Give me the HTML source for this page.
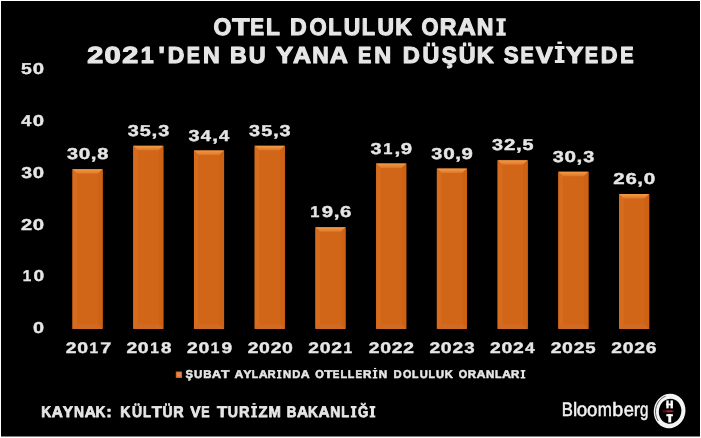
<!DOCTYPE html>
<html><head><meta charset="utf-8"><style>
html,body{margin:0;padding:0;background:#fff;width:701px;height:438px;overflow:hidden}
svg{position:absolute;left:0;top:0;display:block;will-change:transform}
text{font-family:"Liberation Sans",sans-serif;white-space:pre;text-rendering:geometricPrecision}
</style></head><body>
<svg width="701" height="438" viewBox="0 0 701 438">
<defs><linearGradient id="gt" x1="0" y1="0" x2="0" y2="1"><stop offset="0" stop-color="#F59C48"/><stop offset="1" stop-color="#DE7626"/></linearGradient></defs>
<rect x="0" y="0" width="701" height="438" fill="#FFFFFF"/>
<rect x="1" y="1" width="699" height="435.5" fill="#000000"/>
<g><rect x="72.50" y="169.14" width="30.10" height="159.76" fill="#D16619"/><path d="M72.50 169.14H102.60L98.10 173.64H77.00Z" fill="url(#gt)"/><path d="M72.50 169.14L77.00 173.64V324.40L72.50 328.90Z" fill="#D86C1E"/><path d="M102.60 169.14L98.10 173.64V324.40L102.60 328.90Z" fill="#CD6214"/><path d="M72.50 328.90H102.60L98.10 324.40H77.00Z" fill="#D06A24"/></g>
<g><rect x="133.23" y="145.80" width="30.10" height="183.10" fill="#D16619"/><path d="M133.23 145.80H163.33L158.83 150.30H137.73Z" fill="url(#gt)"/><path d="M133.23 145.80L137.73 150.30V324.40L133.23 328.90Z" fill="#D86C1E"/><path d="M163.33 145.80L158.83 150.30V324.40L163.33 328.90Z" fill="#CD6214"/><path d="M133.23 328.90H163.33L158.83 324.40H137.73Z" fill="#D06A24"/></g>
<g><rect x="193.96" y="150.47" width="30.10" height="178.43" fill="#D16619"/><path d="M193.96 150.47H224.06L219.56 154.97H198.46Z" fill="url(#gt)"/><path d="M193.96 150.47L198.46 154.97V324.40L193.96 328.90Z" fill="#D86C1E"/><path d="M224.06 150.47L219.56 154.97V324.40L224.06 328.90Z" fill="#CD6214"/><path d="M193.96 328.90H224.06L219.56 324.40H198.46Z" fill="#D06A24"/></g>
<g><rect x="254.69" y="145.80" width="30.10" height="183.10" fill="#D16619"/><path d="M254.69 145.80H284.79L280.29 150.30H259.19Z" fill="url(#gt)"/><path d="M254.69 145.80L259.19 150.30V324.40L254.69 328.90Z" fill="#D86C1E"/><path d="M284.79 145.80L280.29 150.30V324.40L284.79 328.90Z" fill="#CD6214"/><path d="M254.69 328.90H284.79L280.29 324.40H259.19Z" fill="#D06A24"/></g>
<g><rect x="315.42" y="227.23" width="30.10" height="101.67" fill="#D16619"/><path d="M315.42 227.23H345.52L341.02 231.73H319.92Z" fill="url(#gt)"/><path d="M315.42 227.23L319.92 231.73V324.40L315.42 328.90Z" fill="#D86C1E"/><path d="M345.52 227.23L341.02 231.73V324.40L345.52 328.90Z" fill="#CD6214"/><path d="M315.42 328.90H345.52L341.02 324.40H319.92Z" fill="#D06A24"/></g>
<g><rect x="376.15" y="163.43" width="30.10" height="165.47" fill="#D16619"/><path d="M376.15 163.43H406.25L401.75 167.93H380.65Z" fill="url(#gt)"/><path d="M376.15 163.43L380.65 167.93V324.40L376.15 328.90Z" fill="#D86C1E"/><path d="M406.25 163.43L401.75 167.93V324.40L406.25 328.90Z" fill="#CD6214"/><path d="M376.15 328.90H406.25L401.75 324.40H380.65Z" fill="#D06A24"/></g>
<g><rect x="436.88" y="168.62" width="30.10" height="160.28" fill="#D16619"/><path d="M436.88 168.62H466.98L462.48 173.12H441.38Z" fill="url(#gt)"/><path d="M436.88 168.62L441.38 173.12V324.40L436.88 328.90Z" fill="#D86C1E"/><path d="M466.98 168.62L462.48 173.12V324.40L466.98 328.90Z" fill="#CD6214"/><path d="M436.88 328.90H466.98L462.48 324.40H441.38Z" fill="#D06A24"/></g>
<g><rect x="497.61" y="160.32" width="30.10" height="168.58" fill="#D16619"/><path d="M497.61 160.32H527.71L523.21 164.82H502.11Z" fill="url(#gt)"/><path d="M497.61 160.32L502.11 164.82V324.40L497.61 328.90Z" fill="#D86C1E"/><path d="M527.71 160.32L523.21 164.82V324.40L527.71 328.90Z" fill="#CD6214"/><path d="M497.61 328.90H527.71L523.21 324.40H502.11Z" fill="#D06A24"/></g>
<g><rect x="558.34" y="171.73" width="30.10" height="157.17" fill="#D16619"/><path d="M558.34 171.73H588.44L583.94 176.23H562.84Z" fill="url(#gt)"/><path d="M558.34 171.73L562.84 176.23V324.40L558.34 328.90Z" fill="#D86C1E"/><path d="M588.44 171.73L583.94 176.23V324.40L588.44 328.90Z" fill="#CD6214"/><path d="M558.34 328.90H588.44L583.94 324.40H562.84Z" fill="#D06A24"/></g>
<g><rect x="619.07" y="194.04" width="30.10" height="134.86" fill="#D16619"/><path d="M619.07 194.04H649.17L644.67 198.54H623.57Z" fill="url(#gt)"/><path d="M619.07 194.04L623.57 198.54V324.40L619.07 328.90Z" fill="#D86C1E"/><path d="M649.17 194.04L644.67 198.54V324.40L649.17 328.90Z" fill="#CD6214"/><path d="M619.07 328.90H649.17L644.67 324.40H623.57Z" fill="#D06A24"/></g>
<text transform="translate(213.50 35.13) scale(0.9662 1)" font-size="23.78" font-weight="bold" fill="#E6E6E6" stroke="#E6E6E6" stroke-width="1.14" stroke-linejoin="round">O</text>
<text transform="translate(232.19 35.13) scale(1.1918 1)" font-size="23.78" font-weight="bold" fill="#E6E6E6" stroke="#E6E6E6" stroke-width="1.14" stroke-linejoin="round">T</text>
<text transform="translate(250.17 35.13) scale(0.8711 1)" font-size="23.78" font-weight="bold" fill="#E6E6E6" stroke="#E6E6E6" stroke-width="1.14" stroke-linejoin="round">E</text>
<text transform="translate(266.02 35.13) scale(0.9524 1)" font-size="23.78" font-weight="bold" fill="#E6E6E6" stroke="#E6E6E6" stroke-width="1.14" stroke-linejoin="round">L</text>
<text transform="translate(289.90 35.13) scale(0.9717 1)" font-size="23.78" font-weight="bold" fill="#E6E6E6" stroke="#E6E6E6" stroke-width="1.14" stroke-linejoin="round">D</text>
<text transform="translate(309.43 35.13) scale(0.9279 1)" font-size="23.78" font-weight="bold" fill="#E6E6E6" stroke="#E6E6E6" stroke-width="1.14" stroke-linejoin="round">O</text>
<text transform="translate(328.19 35.13) scale(0.9140 1)" font-size="23.78" font-weight="bold" fill="#E6E6E6" stroke="#E6E6E6" stroke-width="1.14" stroke-linejoin="round">L</text>
<text transform="translate(343.84 35.13) scale(0.9589 1)" font-size="23.78" font-weight="bold" fill="#E6E6E6" stroke="#E6E6E6" stroke-width="1.14" stroke-linejoin="round">U</text>
<text transform="translate(361.87 35.13) scale(0.9140 1)" font-size="23.78" font-weight="bold" fill="#E6E6E6" stroke="#E6E6E6" stroke-width="1.14" stroke-linejoin="round">L</text>
<text transform="translate(377.52 35.13) scale(0.9589 1)" font-size="23.78" font-weight="bold" fill="#E6E6E6" stroke="#E6E6E6" stroke-width="1.14" stroke-linejoin="round">U</text>
<text transform="translate(395.15 35.13) scale(0.9678 1)" font-size="23.78" font-weight="bold" fill="#E6E6E6" stroke="#E6E6E6" stroke-width="1.14" stroke-linejoin="round">K</text>
<text transform="translate(421.44 35.13) scale(0.9188 1)" font-size="23.78" font-weight="bold" fill="#E6E6E6" stroke="#E6E6E6" stroke-width="1.14" stroke-linejoin="round">O</text>
<text transform="translate(439.77 35.13) scale(0.9753 1)" font-size="23.78" font-weight="bold" fill="#E6E6E6" stroke="#E6E6E6" stroke-width="1.14" stroke-linejoin="round">R</text>
<text transform="translate(457.49 35.13) scale(1.0669 1)" font-size="23.78" font-weight="bold" fill="#E6E6E6" stroke="#E6E6E6" stroke-width="1.14" stroke-linejoin="round">A</text>
<text transform="translate(476.85 35.13) scale(0.9708 1)" font-size="23.78" font-weight="bold" fill="#E6E6E6" stroke="#E6E6E6" stroke-width="1.14" stroke-linejoin="round">N</text>
<path d="M496.37 18.20H505.80V21.35H503.36V32.55H505.80V35.70H496.37V32.55H498.81V21.35H496.37Z" fill="#E6E6E6"/>
<text transform="translate(87.14 62.54) scale(1.2378 1)" font-size="23.24" font-weight="bold" fill="#E6E6E6" stroke="#E6E6E6" stroke-width="1.11" stroke-linejoin="round">2</text>
<text transform="translate(104.53 62.54) scale(1.2530 1)" font-size="23.24" font-weight="bold" fill="#E6E6E6" stroke="#E6E6E6" stroke-width="1.11" stroke-linejoin="round">0</text>
<text transform="translate(122.24 62.54) scale(1.2378 1)" font-size="23.24" font-weight="bold" fill="#E6E6E6" stroke="#E6E6E6" stroke-width="1.11" stroke-linejoin="round">2</text>
<text transform="translate(140.85 62.54) scale(0.9989 1)" font-size="23.24" font-weight="bold" fill="#E6E6E6" stroke="#E6E6E6" stroke-width="1.11" stroke-linejoin="round">1</text>
<text transform="translate(158.41 62.54) scale(1.1277 1)" font-size="23.24" font-weight="bold" fill="#E6E6E6" stroke="#E6E6E6" stroke-width="1.11" stroke-linejoin="round">&#39;</text>
<text transform="translate(167.63 62.54) scale(0.9879 1)" font-size="23.24" font-weight="bold" fill="#E6E6E6" stroke="#E6E6E6" stroke-width="1.11" stroke-linejoin="round">D</text>
<text transform="translate(186.84 62.54) scale(0.8501 1)" font-size="23.24" font-weight="bold" fill="#E6E6E6" stroke="#E6E6E6" stroke-width="1.11" stroke-linejoin="round">E</text>
<text transform="translate(202.90 62.54) scale(0.9968 1)" font-size="23.24" font-weight="bold" fill="#E6E6E6" stroke="#E6E6E6" stroke-width="1.11" stroke-linejoin="round">N</text>
<text transform="translate(229.89 62.54) scale(0.9911 1)" font-size="23.24" font-weight="bold" fill="#E6E6E6" stroke="#E6E6E6" stroke-width="1.11" stroke-linejoin="round">B</text>
<text transform="translate(248.72 62.54) scale(1.0056 1)" font-size="23.24" font-weight="bold" fill="#E6E6E6" stroke="#E6E6E6" stroke-width="1.11" stroke-linejoin="round">U</text>
<text transform="translate(276.30 62.54) scale(1.0950 1)" font-size="23.24" font-weight="bold" fill="#E6E6E6" stroke="#E6E6E6" stroke-width="1.11" stroke-linejoin="round">Y</text>
<text transform="translate(293.12 62.54) scale(1.0781 1)" font-size="23.24" font-weight="bold" fill="#E6E6E6" stroke="#E6E6E6" stroke-width="1.11" stroke-linejoin="round">A</text>
<text transform="translate(312.23 62.54) scale(0.9812 1)" font-size="23.24" font-weight="bold" fill="#E6E6E6" stroke="#E6E6E6" stroke-width="1.11" stroke-linejoin="round">N</text>
<text transform="translate(329.73 62.54) scale(1.0781 1)" font-size="23.24" font-weight="bold" fill="#E6E6E6" stroke="#E6E6E6" stroke-width="1.11" stroke-linejoin="round">A</text>
<text transform="translate(358.00 62.54) scale(0.8599 1)" font-size="23.24" font-weight="bold" fill="#E6E6E6" stroke="#E6E6E6" stroke-width="1.11" stroke-linejoin="round">E</text>
<text transform="translate(374.23 62.54) scale(1.0081 1)" font-size="23.24" font-weight="bold" fill="#E6E6E6" stroke="#E6E6E6" stroke-width="1.11" stroke-linejoin="round">N</text>
<text transform="translate(402.65 62.54) scale(1.0171 1)" font-size="23.24" font-weight="bold" fill="#E6E6E6" stroke="#E6E6E6" stroke-width="1.11" stroke-linejoin="round">D</text>
<text transform="translate(422.57 62.54) scale(1.0038 1)" font-size="23.24" font-weight="bold" fill="#E6E6E6" stroke="#E6E6E6" stroke-width="1.11" stroke-linejoin="round">Ü</text>
<text transform="translate(441.66 62.54) scale(0.9731 1)" font-size="23.24" font-weight="bold" fill="#E6E6E6" stroke="#E6E6E6" stroke-width="1.11" stroke-linejoin="round">Ş</text>
<text transform="translate(458.79 62.54) scale(1.0038 1)" font-size="23.24" font-weight="bold" fill="#E6E6E6" stroke="#E6E6E6" stroke-width="1.11" stroke-linejoin="round">Ü</text>
<text transform="translate(476.79 62.54) scale(1.0129 1)" font-size="23.24" font-weight="bold" fill="#E6E6E6" stroke="#E6E6E6" stroke-width="1.11" stroke-linejoin="round">K</text>
<text transform="translate(503.79 62.54) scale(0.9589 1)" font-size="23.24" font-weight="bold" fill="#E6E6E6" stroke="#E6E6E6" stroke-width="1.11" stroke-linejoin="round">S</text>
<text transform="translate(520.52 62.54) scale(0.8627 1)" font-size="23.24" font-weight="bold" fill="#E6E6E6" stroke="#E6E6E6" stroke-width="1.11" stroke-linejoin="round">E</text>
<text transform="translate(535.79 62.54) scale(1.1102 1)" font-size="23.24" font-weight="bold" fill="#E6E6E6" stroke="#E6E6E6" stroke-width="1.11" stroke-linejoin="round">V</text>
<path d="M554.88 46.00H564.46V49.08H561.89V60.02H564.46V63.10H554.88V60.02H557.45V49.08H554.88Z" fill="#E6E6E6"/>
<rect x="557.45" y="41.55" width="4.45" height="2.39" fill="#E6E6E6"/>
<text transform="translate(566.08 62.54) scale(1.1285 1)" font-size="23.24" font-weight="bold" fill="#E6E6E6" stroke="#E6E6E6" stroke-width="1.11" stroke-linejoin="round">Y</text>
<text transform="translate(584.69 62.54) scale(0.8627 1)" font-size="23.24" font-weight="bold" fill="#E6E6E6" stroke="#E6E6E6" stroke-width="1.11" stroke-linejoin="round">E</text>
<text transform="translate(600.70 62.54) scale(1.0023 1)" font-size="23.24" font-weight="bold" fill="#E6E6E6" stroke="#E6E6E6" stroke-width="1.11" stroke-linejoin="round">D</text>
<text transform="translate(620.18 62.54) scale(0.8627 1)" font-size="23.24" font-weight="bold" fill="#E6E6E6" stroke="#E6E6E6" stroke-width="1.11" stroke-linejoin="round">E</text>
<text transform="translate(21.02 74.05) scale(1.2402 1)" font-size="15.67" font-weight="bold" fill="#E6E6E6" stroke="#E6E6E6" stroke-width="0.40" stroke-linejoin="round">5</text>
<text transform="translate(32.80 74.05) scale(1.2975 1)" font-size="15.67" font-weight="bold" fill="#E6E6E6" stroke="#E6E6E6" stroke-width="0.40" stroke-linejoin="round">0</text>
<text transform="translate(21.35 125.89) scale(1.1520 1)" font-size="15.67" font-weight="bold" fill="#E6E6E6" stroke="#E6E6E6" stroke-width="0.40" stroke-linejoin="round">4</text>
<text transform="translate(32.80 125.89) scale(1.2975 1)" font-size="15.67" font-weight="bold" fill="#E6E6E6" stroke="#E6E6E6" stroke-width="0.40" stroke-linejoin="round">0</text>
<text transform="translate(21.17 177.73) scale(1.2414 1)" font-size="15.67" font-weight="bold" fill="#E6E6E6" stroke="#E6E6E6" stroke-width="0.40" stroke-linejoin="round">3</text>
<text transform="translate(32.80 177.73) scale(1.2975 1)" font-size="15.67" font-weight="bold" fill="#E6E6E6" stroke="#E6E6E6" stroke-width="0.40" stroke-linejoin="round">0</text>
<text transform="translate(20.92 229.57) scale(1.2817 1)" font-size="15.67" font-weight="bold" fill="#E6E6E6" stroke="#E6E6E6" stroke-width="0.40" stroke-linejoin="round">2</text>
<text transform="translate(32.80 229.57) scale(1.2975 1)" font-size="15.67" font-weight="bold" fill="#E6E6E6" stroke="#E6E6E6" stroke-width="0.40" stroke-linejoin="round">0</text>
<text transform="translate(22.86 281.41) scale(0.9763 1)" font-size="15.67" font-weight="bold" fill="#E6E6E6" stroke="#E6E6E6" stroke-width="0.40" stroke-linejoin="round">1</text>
<text transform="translate(33.39 281.41) scale(1.2246 1)" font-size="15.67" font-weight="bold" fill="#E6E6E6" stroke="#E6E6E6" stroke-width="0.40" stroke-linejoin="round">0</text>
<text transform="translate(33.03 333.25) scale(1.2688 1)" font-size="15.67" font-weight="bold" fill="#E6E6E6" stroke="#E6E6E6" stroke-width="0.40" stroke-linejoin="round">0</text>
<text transform="translate(66.92 159.24) scale(1.2532 1)" font-size="15.81" font-weight="bold" fill="#E6E6E6" stroke="#E6E6E6" stroke-width="0.41" stroke-linejoin="round">3</text>
<text transform="translate(78.76 159.24) scale(1.3099 1)" font-size="15.81" font-weight="bold" fill="#E6E6E6" stroke="#E6E6E6" stroke-width="0.41" stroke-linejoin="round">0</text>
<text transform="translate(90.77 159.24) scale(1.3088 1)" font-size="15.81" font-weight="bold" fill="#E6E6E6" stroke="#E6E6E6" stroke-width="0.41" stroke-linejoin="round">,</text>
<text transform="translate(97.25 159.24) scale(1.2619 1)" font-size="15.81" font-weight="bold" fill="#E6E6E6" stroke="#E6E6E6" stroke-width="0.41" stroke-linejoin="round">8</text>
<text transform="translate(65.85 353.40) scale(1.2504 1)" font-size="15.40" font-weight="bold" fill="#E6E6E6" stroke="#E6E6E6" stroke-width="0.40" stroke-linejoin="round">2</text>
<text transform="translate(77.24 353.40) scale(1.2658 1)" font-size="15.40" font-weight="bold" fill="#E6E6E6" stroke="#E6E6E6" stroke-width="0.40" stroke-linejoin="round">0</text>
<text transform="translate(89.55 353.40) scale(1.0091 1)" font-size="15.40" font-weight="bold" fill="#E6E6E6" stroke="#E6E6E6" stroke-width="0.40" stroke-linejoin="round">1</text>
<text transform="translate(100.16 353.40) scale(1.2829 1)" font-size="15.40" font-weight="bold" fill="#E6E6E6" stroke="#E6E6E6" stroke-width="0.40" stroke-linejoin="round">7</text>
<text transform="translate(127.65 135.90) scale(1.2532 1)" font-size="15.81" font-weight="bold" fill="#E6E6E6" stroke="#E6E6E6" stroke-width="0.41" stroke-linejoin="round">3</text>
<text transform="translate(139.70 135.90) scale(1.2520 1)" font-size="15.81" font-weight="bold" fill="#E6E6E6" stroke="#E6E6E6" stroke-width="0.41" stroke-linejoin="round">5</text>
<text transform="translate(151.50 135.90) scale(1.3088 1)" font-size="15.81" font-weight="bold" fill="#E6E6E6" stroke="#E6E6E6" stroke-width="0.41" stroke-linejoin="round">,</text>
<text transform="translate(158.15 135.90) scale(1.2532 1)" font-size="15.81" font-weight="bold" fill="#E6E6E6" stroke="#E6E6E6" stroke-width="0.41" stroke-linejoin="round">3</text>
<text transform="translate(126.45 353.40) scale(1.2504 1)" font-size="15.40" font-weight="bold" fill="#E6E6E6" stroke="#E6E6E6" stroke-width="0.40" stroke-linejoin="round">2</text>
<text transform="translate(137.84 353.40) scale(1.2658 1)" font-size="15.40" font-weight="bold" fill="#E6E6E6" stroke="#E6E6E6" stroke-width="0.40" stroke-linejoin="round">0</text>
<text transform="translate(150.15 353.40) scale(1.0091 1)" font-size="15.40" font-weight="bold" fill="#E6E6E6" stroke="#E6E6E6" stroke-width="0.40" stroke-linejoin="round">1</text>
<text transform="translate(161.01 353.40) scale(1.2195 1)" font-size="15.40" font-weight="bold" fill="#E6E6E6" stroke="#E6E6E6" stroke-width="0.40" stroke-linejoin="round">8</text>
<text transform="translate(188.38 140.56) scale(1.2532 1)" font-size="15.81" font-weight="bold" fill="#E6E6E6" stroke="#E6E6E6" stroke-width="0.41" stroke-linejoin="round">3</text>
<text transform="translate(200.76 140.56) scale(1.1630 1)" font-size="15.81" font-weight="bold" fill="#E6E6E6" stroke="#E6E6E6" stroke-width="0.41" stroke-linejoin="round">4</text>
<text transform="translate(212.23 140.56) scale(1.3088 1)" font-size="15.81" font-weight="bold" fill="#E6E6E6" stroke="#E6E6E6" stroke-width="0.41" stroke-linejoin="round">,</text>
<text transform="translate(219.06 140.56) scale(1.1630 1)" font-size="15.81" font-weight="bold" fill="#E6E6E6" stroke="#E6E6E6" stroke-width="0.41" stroke-linejoin="round">4</text>
<text transform="translate(187.05 353.40) scale(1.2504 1)" font-size="15.40" font-weight="bold" fill="#E6E6E6" stroke="#E6E6E6" stroke-width="0.40" stroke-linejoin="round">2</text>
<text transform="translate(198.44 353.40) scale(1.2658 1)" font-size="15.40" font-weight="bold" fill="#E6E6E6" stroke="#E6E6E6" stroke-width="0.40" stroke-linejoin="round">0</text>
<text transform="translate(210.75 353.40) scale(1.0091 1)" font-size="15.40" font-weight="bold" fill="#E6E6E6" stroke="#E6E6E6" stroke-width="0.40" stroke-linejoin="round">1</text>
<text transform="translate(221.55 353.40) scale(1.2428 1)" font-size="15.40" font-weight="bold" fill="#E6E6E6" stroke="#E6E6E6" stroke-width="0.40" stroke-linejoin="round">9</text>
<text transform="translate(249.11 135.90) scale(1.2532 1)" font-size="15.81" font-weight="bold" fill="#E6E6E6" stroke="#E6E6E6" stroke-width="0.41" stroke-linejoin="round">3</text>
<text transform="translate(261.16 135.90) scale(1.2520 1)" font-size="15.81" font-weight="bold" fill="#E6E6E6" stroke="#E6E6E6" stroke-width="0.41" stroke-linejoin="round">5</text>
<text transform="translate(272.96 135.90) scale(1.3088 1)" font-size="15.81" font-weight="bold" fill="#E6E6E6" stroke="#E6E6E6" stroke-width="0.41" stroke-linejoin="round">,</text>
<text transform="translate(279.61 135.90) scale(1.2532 1)" font-size="15.81" font-weight="bold" fill="#E6E6E6" stroke="#E6E6E6" stroke-width="0.41" stroke-linejoin="round">3</text>
<text transform="translate(247.65 353.40) scale(1.2504 1)" font-size="15.40" font-weight="bold" fill="#E6E6E6" stroke="#E6E6E6" stroke-width="0.40" stroke-linejoin="round">2</text>
<text transform="translate(259.04 353.40) scale(1.2658 1)" font-size="15.40" font-weight="bold" fill="#E6E6E6" stroke="#E6E6E6" stroke-width="0.40" stroke-linejoin="round">0</text>
<text transform="translate(270.65 353.40) scale(1.2504 1)" font-size="15.40" font-weight="bold" fill="#E6E6E6" stroke="#E6E6E6" stroke-width="0.40" stroke-linejoin="round">2</text>
<text transform="translate(282.04 353.40) scale(1.2658 1)" font-size="15.40" font-weight="bold" fill="#E6E6E6" stroke="#E6E6E6" stroke-width="0.40" stroke-linejoin="round">0</text>
<text transform="translate(310.34 217.33) scale(1.0442 1)" font-size="15.81" font-weight="bold" fill="#E6E6E6" stroke="#E6E6E6" stroke-width="0.41" stroke-linejoin="round">1</text>
<text transform="translate(321.79 217.33) scale(1.2861 1)" font-size="15.81" font-weight="bold" fill="#E6E6E6" stroke="#E6E6E6" stroke-width="0.41" stroke-linejoin="round">9</text>
<text transform="translate(333.69 217.33) scale(1.3088 1)" font-size="15.81" font-weight="bold" fill="#E6E6E6" stroke="#E6E6E6" stroke-width="0.41" stroke-linejoin="round">,</text>
<text transform="translate(340.05 217.33) scale(1.2887 1)" font-size="15.81" font-weight="bold" fill="#E6E6E6" stroke="#E6E6E6" stroke-width="0.41" stroke-linejoin="round">6</text>
<text transform="translate(308.25 353.40) scale(1.2504 1)" font-size="15.40" font-weight="bold" fill="#E6E6E6" stroke="#E6E6E6" stroke-width="0.40" stroke-linejoin="round">2</text>
<text transform="translate(319.64 353.40) scale(1.2658 1)" font-size="15.40" font-weight="bold" fill="#E6E6E6" stroke="#E6E6E6" stroke-width="0.40" stroke-linejoin="round">0</text>
<text transform="translate(331.25 353.40) scale(1.2504 1)" font-size="15.40" font-weight="bold" fill="#E6E6E6" stroke="#E6E6E6" stroke-width="0.40" stroke-linejoin="round">2</text>
<text transform="translate(343.45 353.40) scale(1.0091 1)" font-size="15.40" font-weight="bold" fill="#E6E6E6" stroke="#E6E6E6" stroke-width="0.40" stroke-linejoin="round">1</text>
<text transform="translate(370.57 153.53) scale(1.2532 1)" font-size="15.81" font-weight="bold" fill="#E6E6E6" stroke="#E6E6E6" stroke-width="0.41" stroke-linejoin="round">3</text>
<text transform="translate(383.27 153.53) scale(1.0442 1)" font-size="15.81" font-weight="bold" fill="#E6E6E6" stroke="#E6E6E6" stroke-width="0.41" stroke-linejoin="round">1</text>
<text transform="translate(394.42 153.53) scale(1.3088 1)" font-size="15.81" font-weight="bold" fill="#E6E6E6" stroke="#E6E6E6" stroke-width="0.41" stroke-linejoin="round">,</text>
<text transform="translate(400.82 153.53) scale(1.2861 1)" font-size="15.81" font-weight="bold" fill="#E6E6E6" stroke="#E6E6E6" stroke-width="0.41" stroke-linejoin="round">9</text>
<text transform="translate(368.85 353.40) scale(1.2504 1)" font-size="15.40" font-weight="bold" fill="#E6E6E6" stroke="#E6E6E6" stroke-width="0.40" stroke-linejoin="round">2</text>
<text transform="translate(380.24 353.40) scale(1.2658 1)" font-size="15.40" font-weight="bold" fill="#E6E6E6" stroke="#E6E6E6" stroke-width="0.40" stroke-linejoin="round">0</text>
<text transform="translate(391.85 353.40) scale(1.2504 1)" font-size="15.40" font-weight="bold" fill="#E6E6E6" stroke="#E6E6E6" stroke-width="0.40" stroke-linejoin="round">2</text>
<text transform="translate(403.34 353.40) scale(1.2504 1)" font-size="15.40" font-weight="bold" fill="#E6E6E6" stroke="#E6E6E6" stroke-width="0.40" stroke-linejoin="round">2</text>
<text transform="translate(431.30 158.72) scale(1.2532 1)" font-size="15.81" font-weight="bold" fill="#E6E6E6" stroke="#E6E6E6" stroke-width="0.41" stroke-linejoin="round">3</text>
<text transform="translate(443.14 158.72) scale(1.3099 1)" font-size="15.81" font-weight="bold" fill="#E6E6E6" stroke="#E6E6E6" stroke-width="0.41" stroke-linejoin="round">0</text>
<text transform="translate(455.15 158.72) scale(1.3088 1)" font-size="15.81" font-weight="bold" fill="#E6E6E6" stroke="#E6E6E6" stroke-width="0.41" stroke-linejoin="round">,</text>
<text transform="translate(461.55 158.72) scale(1.2861 1)" font-size="15.81" font-weight="bold" fill="#E6E6E6" stroke="#E6E6E6" stroke-width="0.41" stroke-linejoin="round">9</text>
<text transform="translate(429.45 353.40) scale(1.2504 1)" font-size="15.40" font-weight="bold" fill="#E6E6E6" stroke="#E6E6E6" stroke-width="0.40" stroke-linejoin="round">2</text>
<text transform="translate(440.84 353.40) scale(1.2658 1)" font-size="15.40" font-weight="bold" fill="#E6E6E6" stroke="#E6E6E6" stroke-width="0.40" stroke-linejoin="round">0</text>
<text transform="translate(452.45 353.40) scale(1.2504 1)" font-size="15.40" font-weight="bold" fill="#E6E6E6" stroke="#E6E6E6" stroke-width="0.40" stroke-linejoin="round">2</text>
<text transform="translate(464.18 353.40) scale(1.2111 1)" font-size="15.40" font-weight="bold" fill="#E6E6E6" stroke="#E6E6E6" stroke-width="0.40" stroke-linejoin="round">3</text>
<text transform="translate(492.03 150.42) scale(1.2532 1)" font-size="15.81" font-weight="bold" fill="#E6E6E6" stroke="#E6E6E6" stroke-width="0.41" stroke-linejoin="round">3</text>
<text transform="translate(503.98 150.42) scale(1.2939 1)" font-size="15.81" font-weight="bold" fill="#E6E6E6" stroke="#E6E6E6" stroke-width="0.41" stroke-linejoin="round">2</text>
<text transform="translate(515.88 150.42) scale(1.3088 1)" font-size="15.81" font-weight="bold" fill="#E6E6E6" stroke="#E6E6E6" stroke-width="0.41" stroke-linejoin="round">,</text>
<text transform="translate(522.38 150.42) scale(1.2520 1)" font-size="15.81" font-weight="bold" fill="#E6E6E6" stroke="#E6E6E6" stroke-width="0.41" stroke-linejoin="round">5</text>
<text transform="translate(490.05 353.40) scale(1.2504 1)" font-size="15.40" font-weight="bold" fill="#E6E6E6" stroke="#E6E6E6" stroke-width="0.40" stroke-linejoin="round">2</text>
<text transform="translate(501.44 353.40) scale(1.2658 1)" font-size="15.40" font-weight="bold" fill="#E6E6E6" stroke="#E6E6E6" stroke-width="0.40" stroke-linejoin="round">0</text>
<text transform="translate(513.05 353.40) scale(1.2504 1)" font-size="15.40" font-weight="bold" fill="#E6E6E6" stroke="#E6E6E6" stroke-width="0.40" stroke-linejoin="round">2</text>
<text transform="translate(524.95 353.40) scale(1.1239 1)" font-size="15.40" font-weight="bold" fill="#E6E6E6" stroke="#E6E6E6" stroke-width="0.40" stroke-linejoin="round">4</text>
<text transform="translate(552.76 161.83) scale(1.2532 1)" font-size="15.81" font-weight="bold" fill="#E6E6E6" stroke="#E6E6E6" stroke-width="0.41" stroke-linejoin="round">3</text>
<text transform="translate(564.60 161.83) scale(1.3099 1)" font-size="15.81" font-weight="bold" fill="#E6E6E6" stroke="#E6E6E6" stroke-width="0.41" stroke-linejoin="round">0</text>
<text transform="translate(576.61 161.83) scale(1.3088 1)" font-size="15.81" font-weight="bold" fill="#E6E6E6" stroke="#E6E6E6" stroke-width="0.41" stroke-linejoin="round">,</text>
<text transform="translate(583.26 161.83) scale(1.2532 1)" font-size="15.81" font-weight="bold" fill="#E6E6E6" stroke="#E6E6E6" stroke-width="0.41" stroke-linejoin="round">3</text>
<text transform="translate(550.65 353.40) scale(1.2504 1)" font-size="15.40" font-weight="bold" fill="#E6E6E6" stroke="#E6E6E6" stroke-width="0.40" stroke-linejoin="round">2</text>
<text transform="translate(562.04 353.40) scale(1.2658 1)" font-size="15.40" font-weight="bold" fill="#E6E6E6" stroke="#E6E6E6" stroke-width="0.40" stroke-linejoin="round">0</text>
<text transform="translate(573.65 353.40) scale(1.2504 1)" font-size="15.40" font-weight="bold" fill="#E6E6E6" stroke="#E6E6E6" stroke-width="0.40" stroke-linejoin="round">2</text>
<text transform="translate(585.24 353.40) scale(1.2099 1)" font-size="15.40" font-weight="bold" fill="#E6E6E6" stroke="#E6E6E6" stroke-width="0.40" stroke-linejoin="round">5</text>
<text transform="translate(613.23 184.13) scale(1.2939 1)" font-size="15.81" font-weight="bold" fill="#E6E6E6" stroke="#E6E6E6" stroke-width="0.41" stroke-linejoin="round">2</text>
<text transform="translate(625.40 184.13) scale(1.2887 1)" font-size="15.81" font-weight="bold" fill="#E6E6E6" stroke="#E6E6E6" stroke-width="0.41" stroke-linejoin="round">6</text>
<text transform="translate(637.34 184.13) scale(1.3088 1)" font-size="15.81" font-weight="bold" fill="#E6E6E6" stroke="#E6E6E6" stroke-width="0.41" stroke-linejoin="round">,</text>
<text transform="translate(643.63 184.13) scale(1.3099 1)" font-size="15.81" font-weight="bold" fill="#E6E6E6" stroke="#E6E6E6" stroke-width="0.41" stroke-linejoin="round">0</text>
<text transform="translate(611.25 353.40) scale(1.2504 1)" font-size="15.40" font-weight="bold" fill="#E6E6E6" stroke="#E6E6E6" stroke-width="0.40" stroke-linejoin="round">2</text>
<text transform="translate(622.64 353.40) scale(1.2658 1)" font-size="15.40" font-weight="bold" fill="#E6E6E6" stroke="#E6E6E6" stroke-width="0.40" stroke-linejoin="round">0</text>
<text transform="translate(634.25 353.40) scale(1.2504 1)" font-size="15.40" font-weight="bold" fill="#E6E6E6" stroke="#E6E6E6" stroke-width="0.40" stroke-linejoin="round">2</text>
<text transform="translate(645.71 353.40) scale(1.2453 1)" font-size="15.40" font-weight="bold" fill="#E6E6E6" stroke="#E6E6E6" stroke-width="0.40" stroke-linejoin="round">6</text>
<text transform="translate(185.54 378.23) scale(0.9855 1)" font-size="11.42" font-weight="bold" fill="#E6E6E6" stroke="#E6E6E6" stroke-width="0.55" stroke-linejoin="round">Ş</text>
<text transform="translate(194.05 378.23) scale(1.0166 1)" font-size="11.42" font-weight="bold" fill="#E6E6E6" stroke="#E6E6E6" stroke-width="0.55" stroke-linejoin="round">U</text>
<text transform="translate(203.26 378.23) scale(1.0020 1)" font-size="11.42" font-weight="bold" fill="#E6E6E6" stroke="#E6E6E6" stroke-width="0.55" stroke-linejoin="round">B</text>
<text transform="translate(211.87 378.23) scale(1.1415 1)" font-size="11.42" font-weight="bold" fill="#E6E6E6" stroke="#E6E6E6" stroke-width="0.55" stroke-linejoin="round">A</text>
<text transform="translate(220.93 378.23) scale(1.2129 1)" font-size="11.42" font-weight="bold" fill="#E6E6E6" stroke="#E6E6E6" stroke-width="0.55" stroke-linejoin="round">T</text>
<text transform="translate(234.46 378.23) scale(1.0802 1)" font-size="11.42" font-weight="bold" fill="#E6E6E6" stroke="#E6E6E6" stroke-width="0.55" stroke-linejoin="round">A</text>
<text transform="translate(243.26 378.23) scale(1.0971 1)" font-size="11.42" font-weight="bold" fill="#E6E6E6" stroke="#E6E6E6" stroke-width="0.55" stroke-linejoin="round">Y</text>
<text transform="translate(251.82 378.23) scale(0.9164 1)" font-size="11.42" font-weight="bold" fill="#E6E6E6" stroke="#E6E6E6" stroke-width="0.55" stroke-linejoin="round">L</text>
<text transform="translate(258.66 378.23) scale(1.0802 1)" font-size="11.42" font-weight="bold" fill="#E6E6E6" stroke="#E6E6E6" stroke-width="0.55" stroke-linejoin="round">A</text>
<text transform="translate(267.49 378.23) scale(0.9875 1)" font-size="11.42" font-weight="bold" fill="#E6E6E6" stroke="#E6E6E6" stroke-width="0.55" stroke-linejoin="round">R</text>
<path d="M276.97 370.10H281.55V371.61H280.35V376.99H281.55V378.50H276.97V376.99H278.17V371.61H276.97Z" fill="#E6E6E6"/>
<text transform="translate(282.94 378.23) scale(0.9830 1)" font-size="11.42" font-weight="bold" fill="#E6E6E6" stroke="#E6E6E6" stroke-width="0.55" stroke-linejoin="round">N</text>
<text transform="translate(292.16 378.23) scale(0.9743 1)" font-size="11.42" font-weight="bold" fill="#E6E6E6" stroke="#E6E6E6" stroke-width="0.55" stroke-linejoin="round">D</text>
<text transform="translate(300.86 378.23) scale(1.0802 1)" font-size="11.42" font-weight="bold" fill="#E6E6E6" stroke="#E6E6E6" stroke-width="0.55" stroke-linejoin="round">A</text>
<text transform="translate(315.31 378.23) scale(0.9615 1)" font-size="11.42" font-weight="bold" fill="#E6E6E6" stroke="#E6E6E6" stroke-width="0.55" stroke-linejoin="round">O</text>
<text transform="translate(324.25 378.23) scale(1.1860 1)" font-size="11.42" font-weight="bold" fill="#E6E6E6" stroke="#E6E6E6" stroke-width="0.55" stroke-linejoin="round">T</text>
<text transform="translate(332.83 378.23) scale(0.8668 1)" font-size="11.42" font-weight="bold" fill="#E6E6E6" stroke="#E6E6E6" stroke-width="0.55" stroke-linejoin="round">E</text>
<text transform="translate(340.41 378.23) scale(0.9477 1)" font-size="11.42" font-weight="bold" fill="#E6E6E6" stroke="#E6E6E6" stroke-width="0.55" stroke-linejoin="round">L</text>
<text transform="translate(347.76 378.23) scale(0.9477 1)" font-size="11.42" font-weight="bold" fill="#E6E6E6" stroke="#E6E6E6" stroke-width="0.55" stroke-linejoin="round">L</text>
<text transform="translate(355.46 378.23) scale(0.8668 1)" font-size="11.42" font-weight="bold" fill="#E6E6E6" stroke="#E6E6E6" stroke-width="0.55" stroke-linejoin="round">E</text>
<text transform="translate(362.90 378.23) scale(1.0207 1)" font-size="11.42" font-weight="bold" fill="#E6E6E6" stroke="#E6E6E6" stroke-width="0.55" stroke-linejoin="round">R</text>
<path d="M372.69 370.10H377.42V371.61H376.14V376.99H377.42V378.50H372.69V376.99H373.96V371.61H372.69Z" fill="#E6E6E6"/>
<rect x="373.96" y="367.92" width="2.18" height="1.18" fill="#E6E6E6"/>
<text transform="translate(378.84 378.23) scale(1.0162 1)" font-size="11.42" font-weight="bold" fill="#E6E6E6" stroke="#E6E6E6" stroke-width="0.55" stroke-linejoin="round">N</text>
<text transform="translate(393.41 378.23) scale(0.9860 1)" font-size="11.42" font-weight="bold" fill="#E6E6E6" stroke="#E6E6E6" stroke-width="0.55" stroke-linejoin="round">D</text>
<text transform="translate(402.92 378.23) scale(0.9415 1)" font-size="11.42" font-weight="bold" fill="#E6E6E6" stroke="#E6E6E6" stroke-width="0.55" stroke-linejoin="round">O</text>
<text transform="translate(412.05 378.23) scale(0.9276 1)" font-size="11.42" font-weight="bold" fill="#E6E6E6" stroke="#E6E6E6" stroke-width="0.55" stroke-linejoin="round">L</text>
<text transform="translate(419.67 378.23) scale(0.9731 1)" font-size="11.42" font-weight="bold" fill="#E6E6E6" stroke="#E6E6E6" stroke-width="0.55" stroke-linejoin="round">U</text>
<text transform="translate(428.44 378.23) scale(0.9276 1)" font-size="11.42" font-weight="bold" fill="#E6E6E6" stroke="#E6E6E6" stroke-width="0.55" stroke-linejoin="round">L</text>
<text transform="translate(436.06 378.23) scale(0.9731 1)" font-size="11.42" font-weight="bold" fill="#E6E6E6" stroke="#E6E6E6" stroke-width="0.55" stroke-linejoin="round">U</text>
<text transform="translate(444.64 378.23) scale(0.9820 1)" font-size="11.42" font-weight="bold" fill="#E6E6E6" stroke="#E6E6E6" stroke-width="0.55" stroke-linejoin="round">K</text>
<text transform="translate(458.72 378.23) scale(0.9456 1)" font-size="11.42" font-weight="bold" fill="#E6E6E6" stroke="#E6E6E6" stroke-width="0.55" stroke-linejoin="round">O</text>
<text transform="translate(467.76 378.23) scale(1.0037 1)" font-size="11.42" font-weight="bold" fill="#E6E6E6" stroke="#E6E6E6" stroke-width="0.55" stroke-linejoin="round">R</text>
<text transform="translate(476.51 378.23) scale(1.0978 1)" font-size="11.42" font-weight="bold" fill="#E6E6E6" stroke="#E6E6E6" stroke-width="0.55" stroke-linejoin="round">A</text>
<text transform="translate(486.06 378.23) scale(0.9992 1)" font-size="11.42" font-weight="bold" fill="#E6E6E6" stroke="#E6E6E6" stroke-width="0.55" stroke-linejoin="round">N</text>
<text transform="translate(495.10 378.23) scale(0.9317 1)" font-size="11.42" font-weight="bold" fill="#E6E6E6" stroke="#E6E6E6" stroke-width="0.55" stroke-linejoin="round">L</text>
<text transform="translate(502.05 378.23) scale(1.0978 1)" font-size="11.42" font-weight="bold" fill="#E6E6E6" stroke="#E6E6E6" stroke-width="0.55" stroke-linejoin="round">A</text>
<text transform="translate(511.02 378.23) scale(1.0037 1)" font-size="11.42" font-weight="bold" fill="#E6E6E6" stroke="#E6E6E6" stroke-width="0.55" stroke-linejoin="round">R</text>
<path d="M520.65 370.10H525.30V371.61H524.07V376.99H525.30V378.50H520.65V376.99H521.88V371.61H520.65Z" fill="#E6E6E6"/>
<text transform="translate(41.31 417.23) scale(0.8755 1)" font-size="15.63" font-weight="bold" fill="#E6E6E6" stroke="#E6E6E6" stroke-width="0.75" stroke-linejoin="round">K</text>
<text transform="translate(51.87 417.23) scale(0.9752 1)" font-size="15.63" font-weight="bold" fill="#E6E6E6" stroke="#E6E6E6" stroke-width="0.75" stroke-linejoin="round">A</text>
<text transform="translate(62.79 417.23) scale(0.9903 1)" font-size="15.63" font-weight="bold" fill="#E6E6E6" stroke="#E6E6E6" stroke-width="0.75" stroke-linejoin="round">Y</text>
<text transform="translate(73.98 417.23) scale(0.8866 1)" font-size="15.63" font-weight="bold" fill="#E6E6E6" stroke="#E6E6E6" stroke-width="0.75" stroke-linejoin="round">N</text>
<text transform="translate(84.67 417.23) scale(0.9752 1)" font-size="15.63" font-weight="bold" fill="#E6E6E6" stroke="#E6E6E6" stroke-width="0.75" stroke-linejoin="round">A</text>
<text transform="translate(95.55 417.23) scale(0.8755 1)" font-size="15.63" font-weight="bold" fill="#E6E6E6" stroke="#E6E6E6" stroke-width="0.75" stroke-linejoin="round">K</text>
<text transform="translate(106.36 417.23) scale(1.0574 1)" font-size="15.63" font-weight="bold" fill="#E6E6E6" stroke="#E6E6E6" stroke-width="0.75" stroke-linejoin="round">:</text>
<text transform="translate(120.28 417.23) scale(0.9008 1)" font-size="15.63" font-weight="bold" fill="#E6E6E6" stroke="#E6E6E6" stroke-width="0.75" stroke-linejoin="round">K</text>
<text transform="translate(132.02 417.23) scale(0.8923 1)" font-size="15.63" font-weight="bold" fill="#E6E6E6" stroke="#E6E6E6" stroke-width="0.75" stroke-linejoin="round">Ü</text>
<text transform="translate(143.09 417.23) scale(0.8498 1)" font-size="15.63" font-weight="bold" fill="#E6E6E6" stroke="#E6E6E6" stroke-width="0.75" stroke-linejoin="round">L</text>
<text transform="translate(151.70 417.23) scale(1.0656 1)" font-size="15.63" font-weight="bold" fill="#E6E6E6" stroke="#E6E6E6" stroke-width="0.75" stroke-linejoin="round">T</text>
<text transform="translate(162.42 417.23) scale(0.8923 1)" font-size="15.63" font-weight="bold" fill="#E6E6E6" stroke="#E6E6E6" stroke-width="0.75" stroke-linejoin="round">Ü</text>
<text transform="translate(173.32 417.23) scale(0.9167 1)" font-size="15.63" font-weight="bold" fill="#E6E6E6" stroke="#E6E6E6" stroke-width="0.75" stroke-linejoin="round">R</text>
<text transform="translate(190.32 417.23) scale(0.9869 1)" font-size="15.63" font-weight="bold" fill="#E6E6E6" stroke="#E6E6E6" stroke-width="0.75" stroke-linejoin="round">V</text>
<text transform="translate(201.28 417.23) scale(0.8000 1)" font-size="15.63" font-weight="bold" fill="#E6E6E6" stroke="#E6E6E6" stroke-width="0.75" stroke-linejoin="round">E</text>
<text transform="translate(217.03 417.23) scale(1.0786 1)" font-size="15.63" font-weight="bold" fill="#E6E6E6" stroke="#E6E6E6" stroke-width="0.75" stroke-linejoin="round">T</text>
<text transform="translate(227.87 417.23) scale(0.9033 1)" font-size="15.63" font-weight="bold" fill="#E6E6E6" stroke="#E6E6E6" stroke-width="0.75" stroke-linejoin="round">U</text>
<text transform="translate(238.91 417.23) scale(0.9280 1)" font-size="15.63" font-weight="bold" fill="#E6E6E6" stroke="#E6E6E6" stroke-width="0.75" stroke-linejoin="round">R</text>
<path d="M251.12 406.10H257.03V408.17H255.57V415.53H257.03V417.60H251.12V415.53H252.58V408.17H251.12Z" fill="#E6E6E6"/>
<rect x="252.58" y="403.11" width="2.99" height="1.61" fill="#E6E6E6"/>
<text transform="translate(258.48 417.23) scale(0.9498 1)" font-size="15.63" font-weight="bold" fill="#E6E6E6" stroke="#E6E6E6" stroke-width="0.75" stroke-linejoin="round">Z</text>
<text transform="translate(268.53 417.23) scale(0.9480 1)" font-size="15.63" font-weight="bold" fill="#E6E6E6" stroke="#E6E6E6" stroke-width="0.75" stroke-linejoin="round">M</text>
<text transform="translate(286.83 417.23) scale(0.8566 1)" font-size="15.63" font-weight="bold" fill="#E6E6E6" stroke="#E6E6E6" stroke-width="0.75" stroke-linejoin="round">B</text>
<text transform="translate(296.98 417.23) scale(0.9774 1)" font-size="15.63" font-weight="bold" fill="#E6E6E6" stroke="#E6E6E6" stroke-width="0.75" stroke-linejoin="round">A</text>
<text transform="translate(307.88 417.23) scale(0.8775 1)" font-size="15.63" font-weight="bold" fill="#E6E6E6" stroke="#E6E6E6" stroke-width="0.75" stroke-linejoin="round">K</text>
<text transform="translate(318.47 417.23) scale(0.9774 1)" font-size="15.63" font-weight="bold" fill="#E6E6E6" stroke="#E6E6E6" stroke-width="0.75" stroke-linejoin="round">A</text>
<text transform="translate(330.17 417.23) scale(0.8886 1)" font-size="15.63" font-weight="bold" fill="#E6E6E6" stroke="#E6E6E6" stroke-width="0.75" stroke-linejoin="round">N</text>
<text transform="translate(341.25 417.23) scale(0.8274 1)" font-size="15.63" font-weight="bold" fill="#E6E6E6" stroke="#E6E6E6" stroke-width="0.75" stroke-linejoin="round">L</text>
<path d="M350.81 406.10H356.50V408.17H355.15V415.53H356.50V417.60H350.81V415.53H352.16V408.17H350.81Z" fill="#E6E6E6"/>
<text transform="translate(358.01 417.23) scale(0.8532 1)" font-size="15.63" font-weight="bold" fill="#E6E6E6" stroke="#E6E6E6" stroke-width="0.75" stroke-linejoin="round">Ğ</text>
<path d="M369.60 406.10H375.30V408.17H373.95V415.53H375.30V417.60H369.60V415.53H370.96V408.17H369.60Z" fill="#E6E6E6"/>
<text transform="translate(561.68 415.55) scale(0.8586 1)" font-size="19.48" font-weight="normal" fill="#F2F2F2" stroke="#F2F2F2" stroke-width="0.50">B</text>
<text transform="translate(572.95 415.55) scale(0.9931 1)" font-size="19.48" font-weight="normal" fill="#F2F2F2" stroke="#F2F2F2" stroke-width="0.50">l</text>
<text transform="translate(576.76 415.55) scale(0.9678 1)" font-size="19.48" font-weight="normal" fill="#F2F2F2" stroke="#F2F2F2" stroke-width="0.50">o</text>
<text transform="translate(586.97 415.55) scale(0.9569 1)" font-size="19.48" font-weight="normal" fill="#F2F2F2" stroke="#F2F2F2" stroke-width="0.50">o</text>
<text transform="translate(597.72 415.55) scale(0.8720 1)" font-size="19.48" font-weight="normal" fill="#F2F2F2" stroke="#F2F2F2" stroke-width="0.50">m</text>
<text transform="translate(612.37 415.55) scale(1.0161 1)" font-size="19.48" font-weight="normal" fill="#F2F2F2" stroke="#F2F2F2" stroke-width="0.50">b</text>
<text transform="translate(623.67 415.55) scale(0.9410 1)" font-size="19.48" font-weight="normal" fill="#F2F2F2" stroke="#F2F2F2" stroke-width="0.50">e</text>
<text transform="translate(633.70 415.55) scale(0.9653 1)" font-size="19.48" font-weight="normal" fill="#F2F2F2" stroke="#F2F2F2" stroke-width="0.50">r</text>
<text transform="translate(640.02 415.55) scale(0.7764 1)" font-size="19.48" font-weight="normal" fill="#F2F2F2" stroke="#F2F2F2" stroke-width="0.50">g</text>

<rect x="175.8" y="371.5" width="6.2" height="6.5" fill="#C96425"/><rect x="176.8" y="372.3" width="4.2" height="4.5" fill="#E3874A"/>
<g>
 <ellipse cx="669.6" cy="411.0" rx="15.8" ry="17.4" fill="#F4F4F4" transform="rotate(12 669.6 411.0)"/>
 <ellipse cx="670.1" cy="411.2" rx="11.2" ry="12.6" fill="#000" transform="rotate(12 670.1 411.2)"/>
 <path d="M658.30 420.89 L657.61 419.80 L657.01 418.64 L656.51 417.42 L656.11 416.16 L655.81 414.85 L655.62 413.52 L655.53 412.16 L655.55 410.80 L655.67 409.44 L655.91 408.09 L656.24 406.76 L656.68 405.47 L657.22 404.21 L657.85 403.01 L658.57 401.87 L659.37 400.80 L660.25 399.81 L661.21 398.90 L662.22 398.08 L663.30 397.36 L664.42 396.75 L665.58 396.25" fill="none" stroke="#303030" stroke-width="0.8"/>
 <rect x="666.3" y="400.4" width="2.4" height="8.0" fill="#FFF"/>
 <rect x="670.5" y="400.4" width="2.4" height="8.0" fill="#FFF"/>
 <rect x="666.3" y="403.6" width="6.6" height="1.8" fill="#FFF"/>
 <rect x="662.8" y="410.2" width="11.0" height="2.2" fill="#5E0A10"/>
 <rect x="666.6" y="410.6" width="5.8" height="1.3" fill="#A8303C"/>
 <rect x="666.3" y="414.2" width="6.6" height="2.1" fill="#FFF"/>
 <rect x="668.3" y="414.2" width="2.9" height="8.2" fill="#FFF"/>
</g>
</svg>
</body></html>
